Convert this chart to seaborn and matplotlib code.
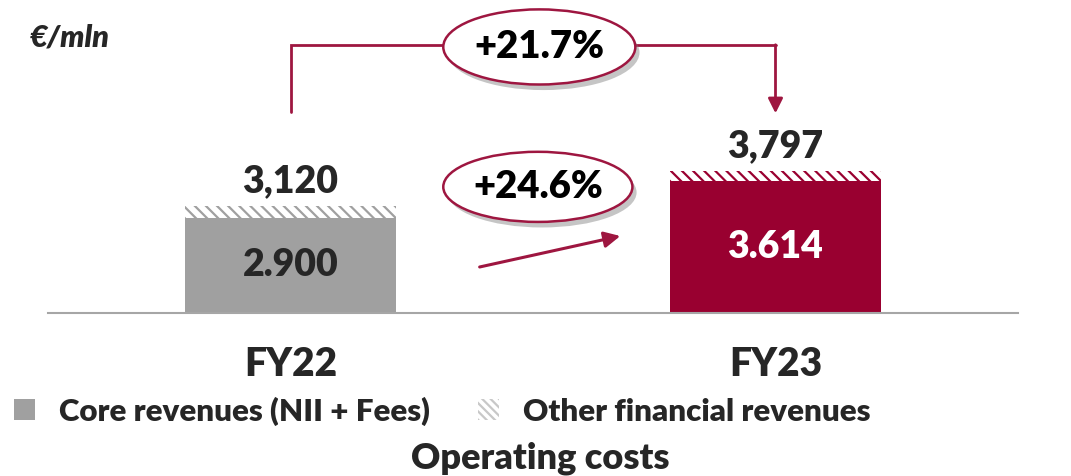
import pandas as pd
import matplotlib.pyplot as plt
import matplotlib.transforms as mtransforms
import matplotlib.patheffects as pe
from matplotlib.patches import Ellipse, Patch
import seaborn as sns

# Datos
anios = ['FY22', 'FY23']
core = [2900, 3614]
total = [3120, 3797]
etiqueta_core = ['2.900', '3.614']
etiqueta_total = ['3,120', '3,797']
variacion_total = '+21.7%'
variacion_core = '+24.6%'

gris = '#A0A0A0'
rojo = '#990030'
linea = '#9E1640'
texto = '#262626'
peso = 'heavy'

sns.set_style('white')
plt.rcParams['font.family'] = ['Lato', 'DejaVu Sans']
plt.rcParams['hatch.linewidth'] = 1.6

df = pd.DataFrame({'Anio': anios, 'Core': core, 'Total': total})

fig = plt.figure(figsize=(10.71, 4.76), dpi=100)
ax = fig.add_axes([48 / 1071, 1 - 313 / 476, 970 / 1071, 313 / 476])

# Barras totales (parte rayada)
sns.barplot(data=df, x='Anio', y='Total', color='white', width=0.435,
            linewidth=0, saturation=1, ax=ax)
for barra, c in zip(ax.patches, [gris, rojo]):
    barra.set_edgecolor(c)
    barra.set_hatch('\\\\\\')

# Barras core encima
sns.barplot(data=df, x='Anio', y='Core', hue='Anio', palette=[gris, rojo],
            width=0.435, linewidth=0, saturation=1, legend=False, ax=ax)

ax.set_xlim(-0.5, 1.5)
ax.set_ylim(1060, 7100)
y0 = ax.get_ylim()[0]

# Etiquetas
for i in range(len(anios)):
    ax.annotate(etiqueta_total[i], (i, total[i]), xytext=(0, 6), textcoords='offset points',
                ha='center', va='bottom', fontsize=27, fontweight=peso, color=texto)
    ax.text(i, (y0 + core[i]) / 2, etiqueta_core[i], ha='center', va='center',
            fontsize=27, fontweight=peso, color=texto if i == 0 else 'white')

# Ejes
for s in ['top', 'left', 'right']:
    ax.spines[s].set_visible(False)
ax.spines['bottom'].set_color('#A6A6A6')
ax.spines['bottom'].set_linewidth(1.5)
ax.set_yticks([])
ax.set_xticks([0, 1])
ax.set_xticklabels(anios, fontsize=28, fontweight=peso, color=texto)
ax.tick_params(axis='x', which='major', length=0, pad=24)
ax.set_xticks([-0.5, 0.5, 1.5], minor=True)
ax.tick_params(axis='x', which='minor', length=9, width=1.5, color='#A6A6A6', direction='out')
ax.set_xlabel('')
ax.set_ylabel('')

# Flechas y elipses (x en datos, y en fraccion de ejes)
trans = mtransforms.blended_transform_factory(ax.transData, ax.transAxes)
ax.plot([0, 0, 1.0], [0.642, 0.856, 0.856], color=linea, lw=2, transform=trans,
        clip_on=False, solid_joinstyle='miter')
ax.annotate('', xy=(1.0, 0.638), xycoords=trans, xytext=(1.0, 0.857), textcoords=trans,
            arrowprops=dict(arrowstyle='-|>', color=linea, lw=2, mutation_scale=22,
                            shrinkA=0, shrinkB=0))
ax.annotate('', xy=(0.68, 0.246), xycoords=trans, xytext=(0.39, 0.147), textcoords=trans,
            arrowprops=dict(arrowstyle='-|>', color=linea, lw=2.2, mutation_scale=24,
                            shrinkA=0, shrinkB=0))

sombra = [pe.SimplePatchShadow(offset=(3, -4), shadow_rgbFace='#7F7F7F', alpha=0.45), pe.Normal()]
for cx, cy, w, h, txt in [(0.513, 0.85, 0.396, 0.24, variacion_total),
                          (0.51, 0.403, 0.39, 0.224, variacion_core)]:
    el = Ellipse((cx, cy), w, h, transform=trans, facecolor='white', edgecolor=linea,
                 lw=1.8, clip_on=False, zorder=5)
    el.set_path_effects(sombra)
    ax.add_patch(el)
    ax.text(cx, cy, txt, transform=trans, ha='center', va='center', fontsize=27.5,
            fontweight=peso, color='black', zorder=6)

# Textos de figura
fig.text(30 / 1071, 1 - 38 / 476, '€/mln', fontsize=22, fontweight=peso, style='italic',
         color=texto, va='center', ha='left')
fig.text(540 / 1071, 1 - 458 / 476, 'Operating costs', fontsize=26, fontweight=peso,
         color=texto, va='center', ha='center')

manejadores = [Patch(facecolor=gris, edgecolor='none', label='Core revenues (NII + Fees)'),
               Patch(facecolor='white', edgecolor='#C8C8C8', hatch='\\\\\\\\', linewidth=0,
                     label='Other financial revenues')]
leg = fig.legend(handles=manejadores, loc='center left', bbox_to_anchor=(14 / 1071, 1 - 411 / 476),
                 ncol=2, frameon=False, fontsize=22.5, handlelength=0.68, handleheight=0.68,
                 handletextpad=0.75, columnspacing=1.55, borderpad=0, borderaxespad=0)
for t in leg.get_texts():
    t.set_fontweight(peso)
    t.set_color(texto)

fig.savefig('out.png', dpi=100)
